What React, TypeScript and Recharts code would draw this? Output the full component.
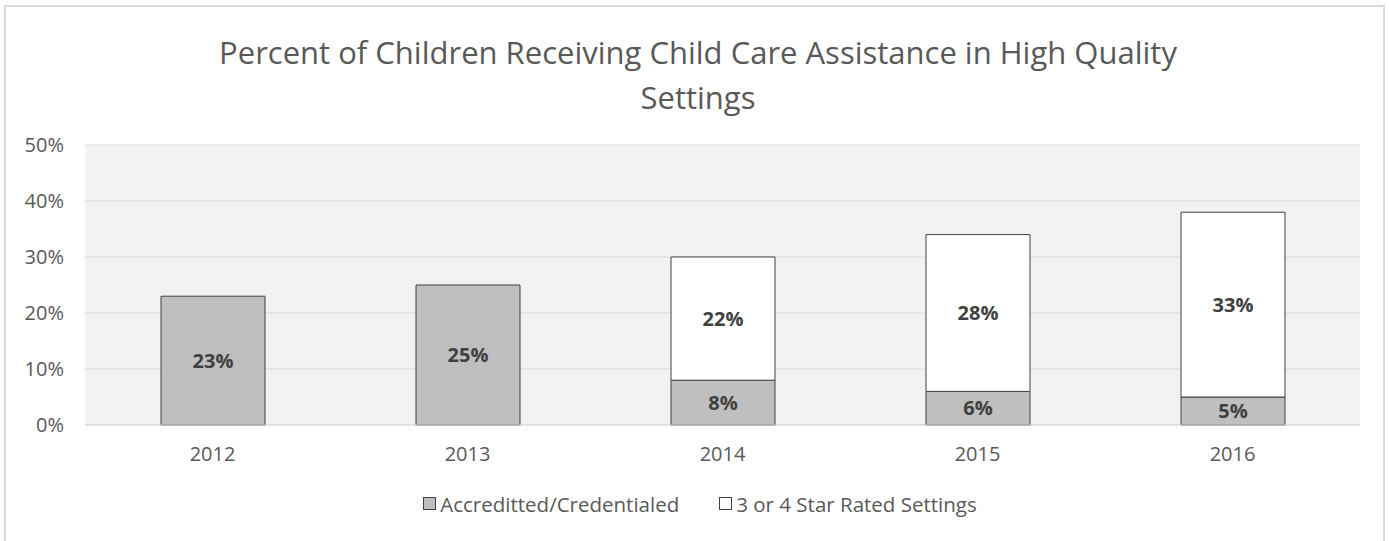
import { BarChart, Bar, XAxis, YAxis, CartesianGrid, LabelList } from "recharts";

const years = ["2012", "2013", "2014", "2015", "2016"];
const accredited = [23, 25, 8, 6, 5];
const starRated = [null, null, 22, 28, 33];
const yTicks = [0, 10, 20, 30, 40, 50];
const titleLines = [
  "Percent of Children Receiving Child Care Assistance in High Quality",
  "Settings",
];
const seriesNames = ["Accreditted/Credentialed", "3 or 4 Star Rated Settings"];

const data = years.map((year, i) => ({
  year,
  accredited: accredited[i],
  starRated: starRated[i],
}));

const FONT = "'Open Sans', sans-serif";
const TEXT = "#595959";
const EDGE = "#404040";
const GREY = "#bfbfbf";

const fmt = (v: any) => (v == null ? "" : `${v}%`);

export default function App() {
  return (
    <div style={styles.page}>
      <div style={styles.frame} />
      <div style={{ ...styles.title, top: 32 }}>{titleLines[0]}</div>
      <div style={{ ...styles.title, top: 77 }}>{titleLines[1]}</div>

      <div style={{ position: "absolute", left: 0, top: 0 }}>
        <BarChart
          width={1389}
          height={541}
          data={data}
          margin={{ top: 145, right: 29, left: 25, bottom: 86 }}
        >
          <CartesianGrid vertical={false} stroke="#d9d9d9" fill="#f2f2f2" />
          <XAxis
            dataKey="year"
            height={30}
            tickLine={false}
            axisLine={{ stroke: "#d9d9d9" }}
            tickSize={0}
            tickMargin={22}
            tick={{ fill: TEXT, fontSize: 20, fontFamily: FONT }}
          />
          <YAxis
            width={60}
            domain={[0, 50]}
            ticks={yTicks}
            tickFormatter={(v) => `${v}%`}
            tickLine={false}
            axisLine={false}
            tickSize={0}
            tickMargin={21}
            tick={{ fill: TEXT, fontSize: 20, fontFamily: FONT }}
          />
          <Bar
            dataKey="accredited"
            name={seriesNames[0]}
            stackId="a"
            barSize={104}
            fill={GREY}
            stroke={EDGE}
            strokeWidth={1}
            isAnimationActive={false}
          >
            <LabelList
              dataKey="accredited"
              position="center"
              formatter={fmt}
              style={{ fill: EDGE, fontSize: 20, fontWeight: 700, fontFamily: FONT }}
            />
          </Bar>
          <Bar
            dataKey="starRated"
            name={seriesNames[1]}
            stackId="a"
            barSize={104}
            fill="#ffffff"
            stroke={EDGE}
            strokeWidth={1}
            isAnimationActive={false}
          >
            <LabelList
              dataKey="starRated"
              position="center"
              formatter={fmt}
              style={{ fill: EDGE, fontSize: 20, fontWeight: 700, fontFamily: FONT }}
            />
          </Bar>
        </BarChart>
      </div>

      <div style={styles.legend}>
        <span style={styles.legendItem}>
          <span style={{ ...styles.swatch, background: GREY }} />
          {seriesNames[0]}
        </span>
        <span style={styles.legendItem}>
          <span style={{ ...styles.swatch, background: "#ffffff" }} />
          {seriesNames[1]}
        </span>
      </div>
    </div>
  );
}

const styles: Record<string, React.CSSProperties> = {
  page: {
    position: "absolute",
    left: 0,
    top: 0,
    width: 1389,
    height: 541,
    overflow: "hidden",
    background: "#ffffff",
    fontFamily: FONT,
  },
  frame: {
    position: "absolute",
    left: 4,
    top: 5,
    width: 1377,
    height: 560,
    border: "2px solid #d9d9d9",
  },
  title: {
    position: "absolute",
    left: 0,
    width: 1396,
    textAlign: "center",
    fontSize: 31,
    lineHeight: "40px",
    color: TEXT,
    whiteSpace: "nowrap",
  },
  legend: {
    position: "absolute",
    left: 0,
    top: 488,
    width: 1400,
    textAlign: "center",
    fontSize: 20.5,
    lineHeight: "28px",
    color: TEXT,
    whiteSpace: "nowrap",
  },
  legendItem: { margin: "0 20px", display: "inline-flex", alignItems: "center" },
  swatch: {
    display: "inline-block",
    width: 11,
    height: 11,
    border: `1px solid ${EDGE}`,
    marginRight: 4,
  },
};
